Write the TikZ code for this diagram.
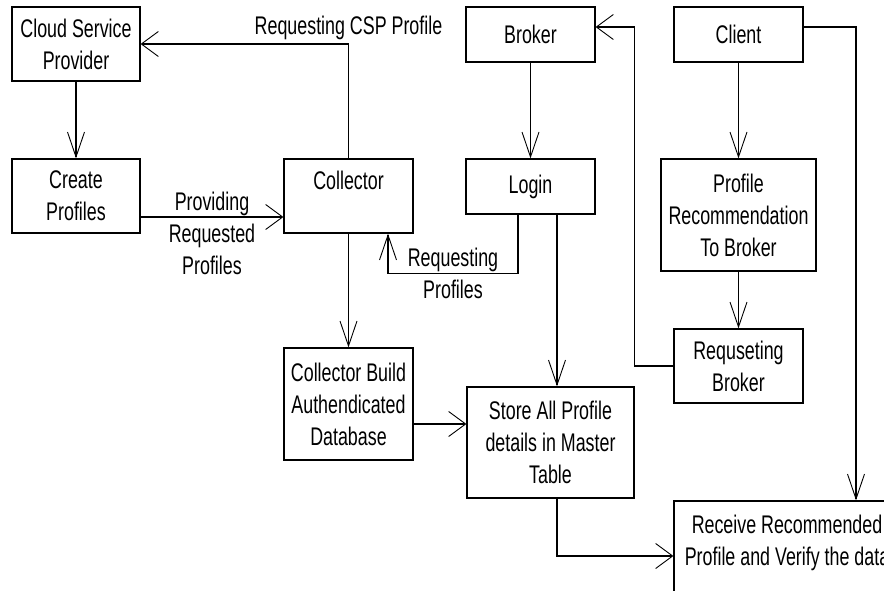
\documentclass[tikz,border=0pt]{standalone}
\usepackage{fontspec}
\setmainfont{Liberation Sans}[FakeStretch=0.7]
\usetikzlibrary{arrows.meta}
\tikzstyle{block}=[draw, line width=1.2pt, align=center, inner sep=0pt]
\tikzstyle{lbl}=[align=center, inner sep=0pt]
\tikzstyle{down}=[line width=1.2pt, -{Straight Barb[length=25pt, width=17pt, line width=0.9pt]}]
\tikzstyle{side}=[line width=1.2pt, -{Straight Barb[length=17pt, width=25pt, line width=0.9pt]}]
\begin{document}
\begin{tikzpicture}[x=1pt, y=-1pt, font=\fontsize{25.5pt}{32pt}\selectfont]
\useasboundingbox (0,0) rectangle (884,591);
\clip (0,0) rectangle (884,591);
\draw(76,44) node[block, minimum width=128pt, minimum height=74pt](csp){Cloud Service\\Provider};
\draw(76,196) node[block, minimum width=128pt, minimum height=74pt](create){Create\\Profiles};
\draw(348.5,196) node[block, minimum width=129pt, minimum height=74pt](coll){Collector\\[0pt]~};
\draw(348.5,404) node[block, minimum width=129pt, minimum height=112pt](cb){Collector Build\\Authendicated\\Database};
%
\draw(530.5,34.5) node[block, minimum width=129pt, minimum height=55pt](broker){Broker};
\draw(530.5,186.5) node[block, minimum width=129pt, minimum height=55pt](login){Login};
\draw(550.5,442.5) node[block, minimum width=167pt, minimum height=111pt](store){Store All Profile\\details in Master\\Table};
%
\draw(738.5,34.5) node[block, minimum width=129pt, minimum height=55pt](client){Client};
\draw(738.5,215) node[block, minimum width=155pt, minimum height=112pt](profrec){Profile\\Recommendation\\To Broker};
\draw(738.5,366) node[block, minimum width=129pt, minimum height=74pt](reqb){Requseting\\Broker};
\draw(787,556) node[block, minimum width=226pt, minimum height=110pt](recv){Receive Recommended\\Profile and Verify the data\\[0pt]~};
%
\draw[down] (csp) -- (create);
\draw[side] (coll.north) |- node[pos=0.5, lbl, yshift=16pt]{Requesting CSP Profile} (csp.east);
\draw[side] ([yshift=-21pt]create.east) -- node[midway, lbl, yshift=-16pt]{Providing\\Requested\\Profiles} ([yshift=-21pt]coll.west);
\draw[down] ([xshift=-12.5pt]login.south) -- ++(0,59) -| node[pos=0.25, lbl]{Requesting\\Profiles} ([xshift=39.5pt]coll.south);
\draw[down] (coll) -- (cb);
\draw[side] ([yshift=-20pt]cb.east) -- ([yshift=-20pt]cb.east -| store.west);
%
\draw[down] (broker) -- (login);
\draw[down] ([xshift=26.5pt]login.south) -- ([xshift=26.5pt]login.south |- store.north);
\draw[side] ([xshift=6.5pt]store.south) |- (recv.west);
%
\draw[down] (client) -- (profrec);
\draw[down] (profrec) -- (reqb);
\draw[side] (reqb.west) -- ++(-39,0) |- ([yshift=7.5pt]broker.east);
\draw[down] ([yshift=7.5pt]client.east) -| ([xshift=69pt]recv.north);
\end{tikzpicture}
\end{document}
